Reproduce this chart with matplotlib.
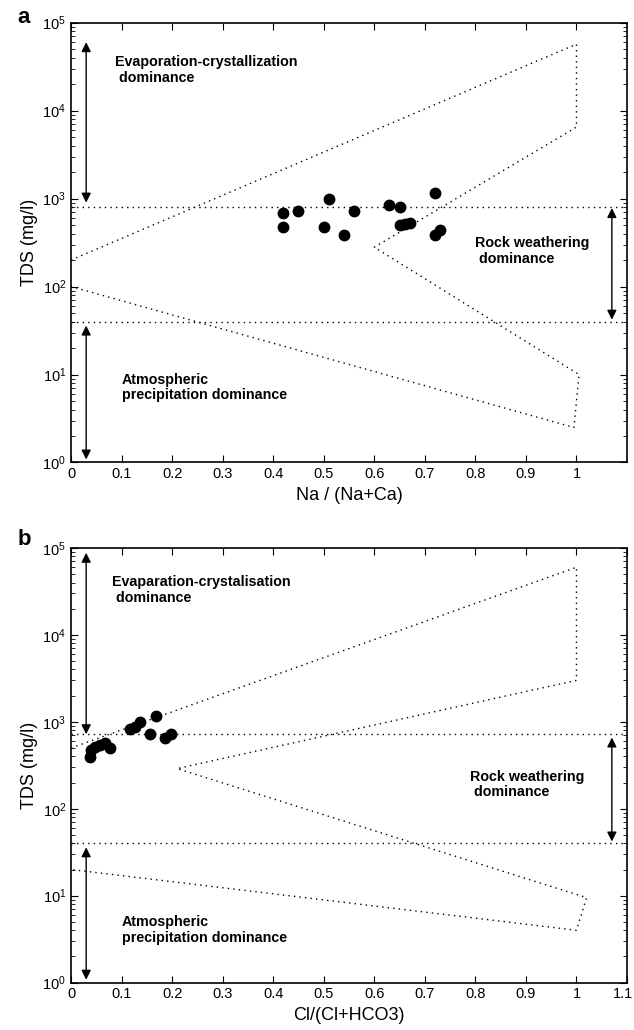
import matplotlib
matplotlib.use("Agg")
import matplotlib.pyplot as plt
import matplotlib.transforms as mtransforms
import numpy as np

plt.rcParams['font.family'] = ['Liberation Sans', 'DejaVu Sans']

# ---- panel a : Na/(Na+Ca) ----
na_ratio = [0.42, 0.42, 0.45, 0.50, 0.51, 0.54, 0.56, 0.63, 0.65, 0.65, 0.66, 0.67, 0.72, 0.72, 0.73]
na_tds = [680, 470, 730, 480, 980, 390, 720, 840, 810, 500, 510, 530, 1150, 390, 440]

# Gibbs boundary lines, panel a
a_outer_x = [0.0, 1.0, 1.0, 0.6, 1.005, 0.995, 0.0]
a_outer_y = [200, 57000, 6500, 280, 10, 2.5, 100]
a_hlines = [800, 40]

# ---- panel b : Cl/(Cl+HCO3) ----
cl_ratio = [0.038, 0.040, 0.047, 0.057, 0.067, 0.077, 0.117, 0.127, 0.137, 0.168, 0.157, 0.186, 0.198]
cl_tds = [390, 480, 510, 540, 570, 500, 820, 870, 1000, 1170, 730, 650, 730]

b_outer_x = [0.0, 1.0, 1.0, 0.21, 1.02, 1.0, 0.0]
b_outer_y = [500, 60000, 3000, 290, 9.5, 4, 20]
b_hlines = [720, 40]

fig = plt.figure(figsize=(6.34, 10.30), dpi=100)
ax1 = fig.add_axes([0.112, 0.551, 0.877, 0.427])
ax2 = fig.add_axes([0.112, 0.046, 0.877, 0.422])

dot = dict(color='black', lw=1.0, linestyle=(0, (1, 3)))
txt = dict(fontsize=10.3, fontweight='bold', va='center', ha='left', linespacing=1.15)


def arrow(ax, x, y0, y1):
    ax.annotate('', xy=(x, y1), xytext=(x, y0),
                arrowprops=dict(arrowstyle='<|-|>', color='black', lw=1,
                                mutation_scale=14, shrinkA=0, shrinkB=0))


def label(t):
    if t == 0:
        return '0'
    if abs(t - 1) < 1e-9:
        return '1'
    if abs(t - 1.1) < 1e-9:
        return '1.1'
    return f'{t:.1f}'


def style(ax, xticks):
    ax.set_yscale('log')
    ax.set_xlim(0, 1.1)
    ax.set_ylim(1, 1e5)
    ax.set_xticks(xticks)
    ax.set_xticklabels([label(t) for t in xticks])
    ax.set_yticks([1, 10, 100, 1000, 1e4, 1e5])
    ax.tick_params(which='both', direction='in', top=True, right=True, labelsize=10.5)
    ax.tick_params(which='major', length=5)
    ax.tick_params(which='minor', length=3)
    for s in ax.spines.values():
        s.set_linewidth(1.2)
    ax.set_ylabel('TDS (mg/l)', fontsize=13, labelpad=3)


# panel a
ax1.plot(a_outer_x, a_outer_y, **dot)
for h in a_hlines:
    ax1.plot([0, 1.1], [h, h], **dot)
ax1.plot(na_ratio, na_tds, 'o', color='black', ms=7.5)
arrow(ax1, 0.03, 900, 60000)
arrow(ax1, 0.03, 36, 1.08)
arrow(ax1, 1.07, 780, 42)
ax1.text(0.087, 2.9e4, 'Evaporation-crystallization\n dominance', **txt)
ax1.text(0.8, 255, 'Rock weathering\n dominance', **txt)
ax1.text(0.1, 7.1, 'Atmospheric\nprecipitation dominance', **txt)
style(ax1, np.round(np.arange(0, 1.01, 0.1), 1))
ax1.set_xlabel('Na / (Na+Ca)', fontsize=13)

# panel b
ax2.plot(b_outer_x, b_outer_y, **dot)
for h in b_hlines:
    ax2.plot([0, 1.1], [h, h], **dot)
ax2.plot(cl_ratio, cl_tds, 'o', color='black', ms=7.5)
arrow(ax2, 0.03, 720, 88000)
arrow(ax2, 0.03, 36, 1.08)
arrow(ax2, 1.07, 660, 42)
ax2.text(0.082, 3.3e4, 'Evaparation-crystalisation\n dominance', **txt)
ax2.text(0.79, 190, 'Rock weathering\n dominance', **txt)
ax2.text(0.1, 4.0, 'Atmospheric\nprecipitation dominance', **txt)
style(ax2, np.round(np.arange(0, 1.11, 0.1), 1))
ax2.set_xlabel('Cl/(Cl+HCO3)', fontsize=13)

# keep the last "1.1" label inside the canvas
last = ax2.get_xticklabels()[-1]
last.set_transform(last.get_transform() + mtransforms.ScaledTranslation(-4 / 100, 0, fig.dpi_scale_trans))

fig.text(0.028, 0.983, 'a', fontsize=16, fontweight='bold', va='center')
fig.text(0.028, 0.476, 'b', fontsize=16, fontweight='bold', va='center')

fig.savefig('out.png', dpi=100)
